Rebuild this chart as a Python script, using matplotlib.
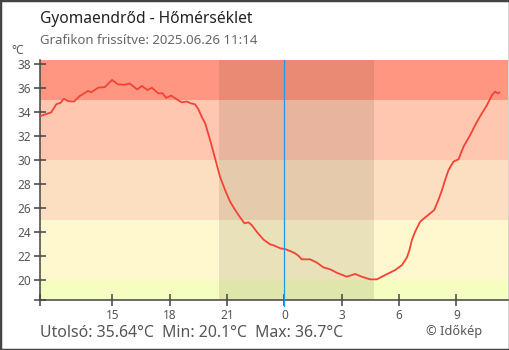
import matplotlib
matplotlib.use("Agg")
import matplotlib.pyplot as plt
from matplotlib.patches import Rectangle

plt.rcParams['font.family'] = ['Noto Sans', 'DejaVu Sans']

# hours from midnight of 2025.06.25 (values > 24 are the next day)
hours = [11.25, 11.80, 12.06, 12.29, 12.45, 12.68, 12.99, 13.29, 13.72, 13.90,
         14.25, 14.60, 14.98, 15.29, 15.64, 15.91, 16.30, 16.54, 16.83, 17.06,
         17.40, 17.63, 17.81, 18.07, 18.37, 18.63, 18.89, 19.10, 19.32, 19.50,
         19.68, 19.85, 20.11, 20.37, 20.63, 20.90, 21.16, 21.42, 21.68, 21.91,
         22.12, 22.29, 22.55, 22.90, 23.25, 23.46, 23.78, 24.04, 24.30, 24.56,
         24.73, 24.91, 25.35, 25.70, 26.04, 26.39, 26.74, 27.27, 27.70, 28.05,
         28.49, 28.84, 29.27, 29.80, 30.15, 30.41, 30.54, 30.67, 30.84, 31.10,
         31.37, 31.63, 31.84, 32.06, 32.24, 32.41, 32.59, 32.85, 33.11, 33.37,
         33.72, 34.07, 34.33, 34.60, 34.86, 35.03, 35.17, 35.25]
temps = [33.70, 34.00, 34.67, 34.80, 35.13, 34.94, 34.90, 35.36, 35.78, 35.67,
         36.05, 36.10, 36.70, 36.33, 36.30, 36.40, 35.90, 36.20, 35.86, 36.05,
         35.58, 35.58, 35.20, 35.40, 35.08, 34.83, 34.90, 34.75, 34.67, 34.25,
         33.60, 33.10, 31.70, 30.17, 28.63, 27.50, 26.55, 25.86, 25.25, 24.75,
         24.83, 24.60, 24.05, 23.40, 23.00, 22.90, 22.67, 22.60, 22.44, 22.25,
         22.05, 21.75, 21.75, 21.47, 21.08, 20.92, 20.63, 20.30, 20.53, 20.30,
         20.08, 20.08, 20.44, 20.86, 21.27, 21.90, 22.50, 23.36, 24.05, 24.88,
         25.25, 25.58, 25.86, 26.70, 27.50, 28.36, 29.20, 29.90, 30.08, 31.13,
         32.10, 33.20, 33.90, 34.60, 35.44, 35.72, 35.58, 35.64]

# temperature zones (lower, upper, colour)
zone_edges = [18.36, 20, 25, 30, 35, 38.36]
zone_colors = ['#f5fdc0', '#fff8ce', '#fcdec0', '#ffc6b0', '#ff9682']

sunset, sunrise = 20.58, 28.70
x_min, x_max = 11.21, 35.70
tick_hours = [15, 18, 21, 24, 27, 30, 33]
tick_labels = ['15', '18', '21', '0', '3', '6', '9']
y_ticks = [20, 22, 24, 26, 28, 30, 32, 34, 36, 38]

title = 'Gyomaendrőd - Hőmérséklet'
subtitle = 'Grafikon frissítve: 2025.06.26 11:14'
footer = 'Utolsó: 35.64°C  Min: 20.1°C  Max: 36.7°C'

fig = plt.figure(figsize=(5.1, 3.5), dpi=100)
ax = fig.add_axes([40 / 510, 50 / 350, 468 / 510, 240 / 350])

for lo, hi, c in zip(zone_edges[:-1], zone_edges[1:], zone_colors):
    ax.axhspan(lo, hi, color=c, lw=0, zorder=0)
ax.axvspan(sunset, sunrise, color='#3a2a10', alpha=0.11, lw=0, zorder=1)
ax.axvline(24, ymin=-0.027, ymax=1, color='#2196f3', lw=0.9, zorder=5, clip_on=False)
ax.plot(hours, temps, color='#f44336', lw=1.3, zorder=3)

ax.set_xlim(x_min, x_max)
ax.set_ylim(zone_edges[0], zone_edges[-1])
ax.set_xticks([x_min] + tick_hours)
ax.set_xticklabels([''] + tick_labels)
ax.set_yticks([zone_edges[0]] + y_ticks)
ax.set_yticklabels([''] + [str(v) for v in y_ticks])
ax.tick_params(direction='inout', length=9, width=1.1, color='#444444',
               labelcolor='#555555', labelsize=8.5, pad=2)
for s in ['top', 'right']:
    ax.spines[s].set_visible(False)
for s in ['left', 'bottom']:
    ax.spines[s].set_color('#444444')
    ax.spines[s].set_linewidth(1.1)

fig.text(40 / 510, 1 - 19 / 350, title, fontsize=11.2, color='#222222', va='center')
fig.text(40 / 510, 1 - 40 / 350, subtitle, fontsize=9.5, color='#666666', va='center')
fig.text(18 / 510, 1 - 51 / 350, '°C', fontsize=8.5, color='#555555', ha='center', va='center')
fig.text(40 / 510, 1 - 333 / 350, footer, fontsize=11.4, color='#555555', va='center')
fig.text(482 / 510, 1 - 331 / 350, '© Időkép', fontsize=9.2, color='#555555', ha='right', va='center')

fig.add_artist(Rectangle((0, 0), 1, 1, transform=fig.transFigure, fill=False,
                         edgecolor='#444444', lw=2.5))

fig.savefig('out.png', dpi=100)
